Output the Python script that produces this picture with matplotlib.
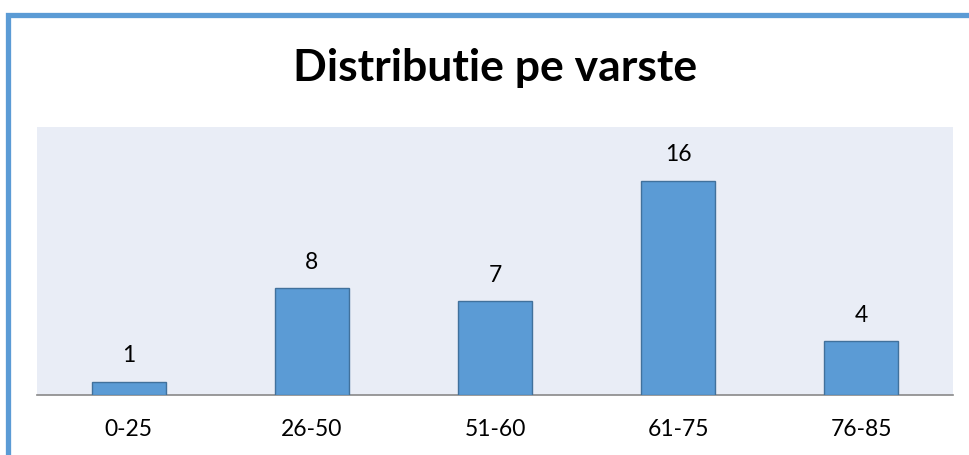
import matplotlib.pyplot as plt
from matplotlib.patches import Rectangle

# Age distribution data
categories = ['0-25', '26-50', '51-60', '61-75', '76-85']
counts = [1, 8, 7, 16, 4]
title = 'Distributie pe varste'

plt.rcParams['font.family'] = ['Lato', 'DejaVu Sans']

fig = plt.figure(figsize=(9.7, 4.55), dpi=100)
W, H = 970, 455

# blue frame, cut off at right and bottom like the screenshot
fig.patches.append(Rectangle((8.5 / W, -0.1), 1.2, (H - 14.5) / H + 0.1,
                             transform=fig.transFigure, fill=False,
                             edgecolor='#5B9BD5', linewidth=3.8, zorder=5))

ax = fig.add_axes([37 / W, (H - 395) / H, 916 / W, 268 / H])
ax.set_facecolor('#E9EDF6')

x = range(len(categories))
bars = ax.bar(x, counts, width=0.404, color='#5B9BD5', edgecolor='#41719C',
              linewidth=1.0, zorder=3)

for b, v in zip(bars, counts):
    ax.annotate(str(v), (b.get_x() + b.get_width() / 2, v),
                xytext=(0, 18.5), textcoords='offset points',
                ha='center', va='center', fontsize=16.5, color='#000000')

ax.set_xlim(-0.5, len(categories) - 0.5)
ax.set_ylim(0, 20)
ax.set_xticks(list(x))
ax.set_xticklabels(categories, fontsize=16.5)
ax.tick_params(axis='x', length=0, pad=17)
ax.set_yticks([])

for s in ['top', 'right', 'left']:
    ax.spines[s].set_visible(False)
ax.spines['bottom'].set_color('#898989')
ax.spines['bottom'].set_linewidth(1.2)

fig.text(495 / W, 1 - 68 / H, title, ha='center', va='center',
         fontsize=32, fontweight='bold', color='#000000')

fig.savefig('out.png', dpi=100)
